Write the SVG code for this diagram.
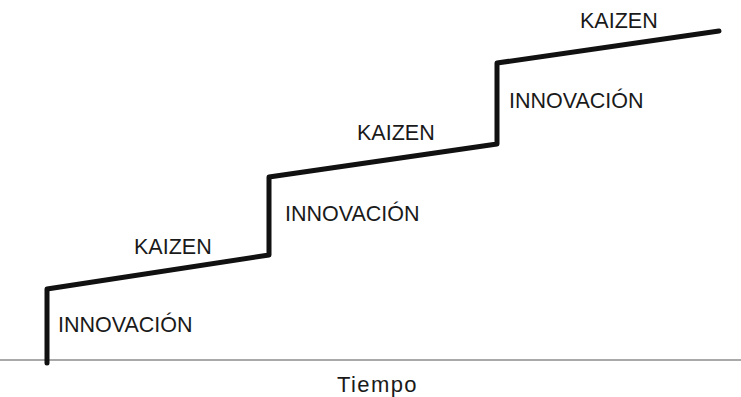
<svg xmlns="http://www.w3.org/2000/svg" width="741" height="397" viewBox="0 0 741 397">
<style>
.lbl{font-family:"Liberation Sans",Arial,sans-serif;font-size:21.5px;fill:#1a1a1a}
.step{fill:none;stroke:#111;stroke-width:5;stroke-linejoin:round;stroke-linecap:round}
.axis{stroke:#555;stroke-width:1.2}
</style>
<rect width="741" height="397" fill="#fff"/>
<g id="connectors">
<line class="axis" x1="0" y1="360" x2="741" y2="360"/>
<path class="step" d="M47,363 L47,289 L269,255 L269,177 L497,144 L497,63 L719,31"/>
</g>
<g id="innovacion1"><text class="lbl" x="58" y="332">INNOVACIÓN</text></g>
<g id="kaizen1"><text class="lbl" x="134" y="254">KAIZEN</text></g>
<g id="innovacion2"><text class="lbl" x="285" y="221">INNOVACIÓN</text></g>
<g id="kaizen2"><text class="lbl" x="357" y="140">KAIZEN</text></g>
<g id="innovacion3"><text class="lbl" x="509" y="108">INNOVACIÓN</text></g>
<g id="kaizen3"><text class="lbl" x="580" y="28">KAIZEN</text></g>
<g id="tiempo"><text class="lbl" x="337" y="392" style="font-size:22px;letter-spacing:1.4px">Tiempo</text></g>
</svg>
